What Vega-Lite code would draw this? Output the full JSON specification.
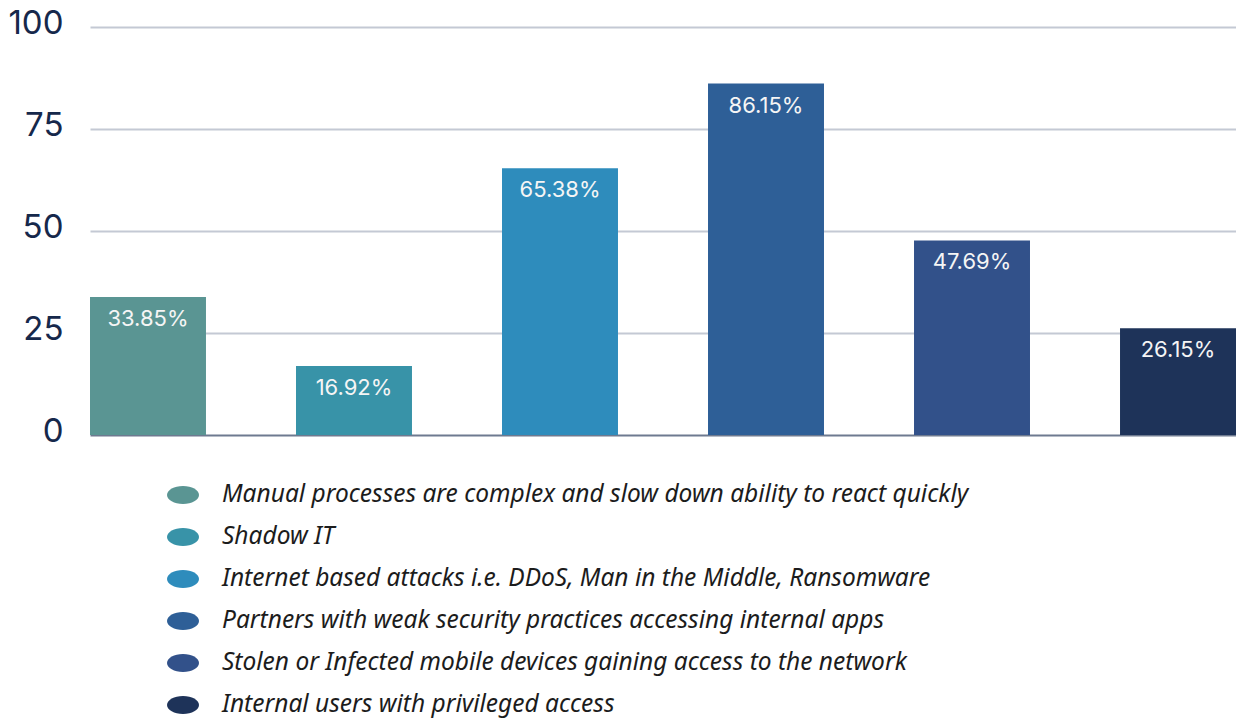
{
  "$schema": "https://vega.github.io/schema/vega-lite/v6.json",
  "autosize": {"type": "none"},
  "padding": {"left": 90, "top": 27, "right": 0, "bottom": 287},
  "width": 1146,
  "height": 408,
  "background": "#ffffff",
  "data": {
    "values": [
      {"reason": "Manual processes are complex and slow down ability to react quickly", "pct": 33.85},
      {"reason": "Shadow IT", "pct": 16.92},
      {"reason": "Internet based attacks i.e. DDoS, Man in the Middle, Ransomware", "pct": 65.38},
      {"reason": "Partners with weak security practices accessing internal apps", "pct": 86.15},
      {"reason": "Stolen or Infected mobile devices gaining access to the network", "pct": 47.69},
      {"reason": "Internal users with privileged access", "pct": 26.15}
    ]
  },
  "transform": [
    {"calculate": "format(datum.pct, '.2f') + '%'", "as": "label"}
  ],
  "encoding": {
    "x": {
      "field": "reason",
      "type": "nominal",
      "sort": null,
      "scale": {"paddingInner": 0.437, "paddingOuter": 0},
      "axis": {
        "title": null,
        "labels": false,
        "ticks": false,
        "domainColor": "#6e7a90",
        "domainWidth": 2
      }
    },
    "y": {
      "field": "pct",
      "type": "quantitative",
      "scale": {"domain": [0, 100], "nice": false},
      "axis": {
        "title": null,
        "values": [0, 25, 50, 75, 100],
        "domain": false,
        "ticks": false,
        "grid": true,
        "gridColor": "#c4c9d4",
        "gridWidth": 2,
        "gridOpacity": {"condition": {"test": "datum.value === 0", "value": 0}, "value": 1},
        "labelFont": "Inter",
        "labelFontSize": 33,
        "labelColor": "#16284b",
        "labelPadding": 27,
        "labelOffset": -4
      }
    }
  },
  "layer": [
    {
      "mark": {"type": "bar"},
      "encoding": {
        "color": {
          "field": "reason",
          "type": "nominal",
          "sort": null,
          "scale": {
            "range": ["#5a9593", "#3893a8", "#2e8cbc", "#2e5f97", "#32518a", "#1e3359"]
          },
          "legend": {
            "title": null,
            "orient": "none",
            "legendX": 77,
            "legendY": 452,
            "padding": 0,
            "symbolType": "M -1 0 A 1 0.56 0 1 0 1 0 A 1 0.56 0 1 0 -1 0 Z",
            "symbolSize": 1024,
            "symbolStrokeWidth": 0,
            "symbolOpacity": 1,
            "labelFont": "Noto Sans",
            "labelFontStyle": "italic",
            "labelFontSize": 24.5,
            "labelColor": "#1c1c1c",
            "labelLimit": 0,
            "labelOffset": 23,
            "rowPadding": 14
          }
        }
      }
    },
    {
      "mark": {"type": "text", "baseline": "middle", "align": "center", "dy": 22, "font": "Inter", "fontSize": 22, "color": "#f5f5f5"},
      "encoding": {
        "text": {"field": "label", "type": "nominal"}
      }
    }
  ],
  "config": {"view": {"stroke": null}}
}
